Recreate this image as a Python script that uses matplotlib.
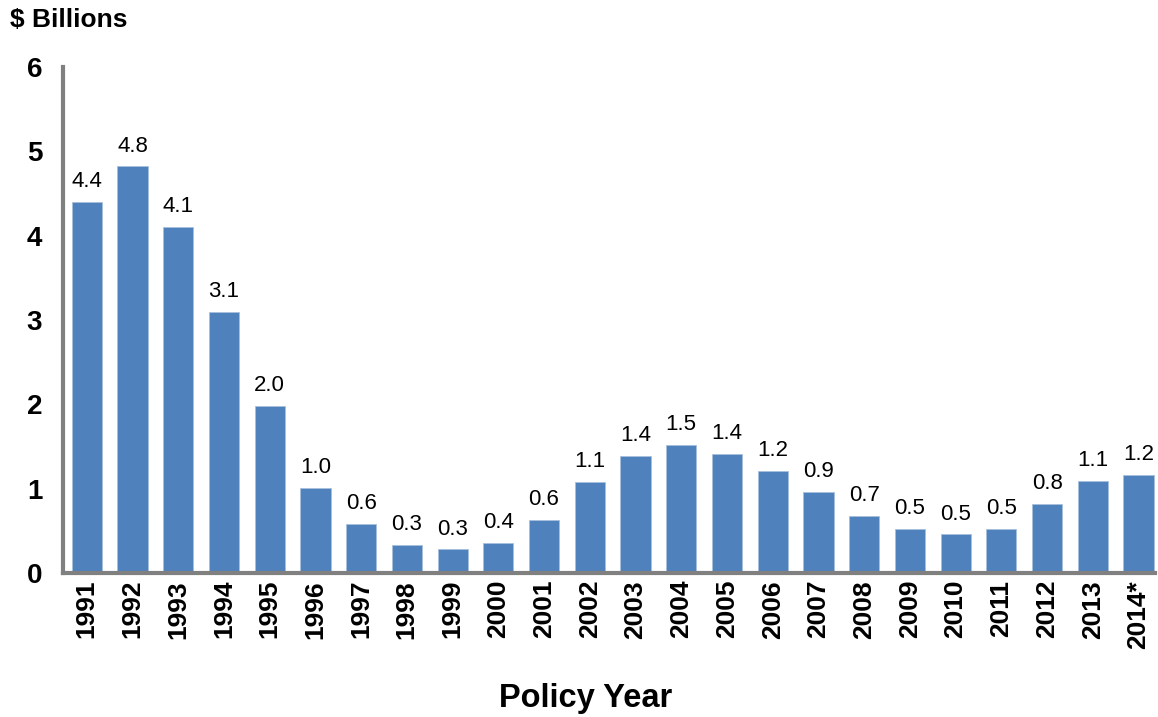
import matplotlib.pyplot as plt

years = ['1991', '1992', '1993', '1994', '1995', '1996', '1997', '1998',
         '1999', '2000', '2001', '2002', '2003', '2004', '2005', '2006',
         '2007', '2008', '2009', '2010', '2011', '2012', '2013', '2014*']
heights = [4.40, 4.82, 4.10, 3.10, 1.98, 1.01, 0.58, 0.33,
           0.28, 0.36, 0.63, 1.08, 1.39, 1.52, 1.41, 1.21,
           0.96, 0.68, 0.52, 0.46, 0.52, 0.82, 1.09, 1.16]
labels = ['4.4', '4.8', '4.1', '3.1', '2.0', '1.0', '0.6', '0.3',
          '0.3', '0.4', '0.6', '1.1', '1.4', '1.5', '1.4', '1.2',
          '0.9', '0.7', '0.5', '0.5', '0.5', '0.8', '1.1', '1.2']

plt.rcParams['font.family'] = ['Liberation Sans', 'DejaVu Sans']

fig = plt.figure(figsize=(11.58, 7.17), dpi=100)
ax = fig.add_axes([0.0544, 0.2008, 0.9426, 0.7058])

xs = list(range(len(years)))
bars = ax.bar(xs, heights, width=0.66, color='#4F81BD', edgecolor='#A7C0DE', linewidth=0.6)
for x, h, lab in zip(xs, heights, labels):
    ax.annotate(lab, (x, h), xytext=(0, 7), textcoords='offset points',
                ha='center', va='bottom', fontsize=16)

ax.set_ylim(0, 6)
ax.set_xlim(-0.52, 23.35)
ax.set_yticks(range(7))
ax.set_xticks(xs)
ax.set_xticklabels(years, rotation=90, fontsize=19, fontweight='bold')
for t in ax.get_yticklabels():
    t.set_fontsize(20)
    t.set_fontweight('bold')
ax.tick_params(axis='both', length=0)
ax.tick_params(axis='y', pad=15)
ax.tick_params(axis='x', pad=5)

for s in ['top', 'right']:
    ax.spines[s].set_visible(False)
for s in ['left', 'bottom']:
    ax.spines[s].set_color('#808080')
    ax.spines[s].set_linewidth(3)

fig.text(0.009, 0.972, '$ Billions', fontsize=19, fontweight='bold', va='center', ha='left')
fig.text(0.506, 0.026, 'Policy Year', fontsize=23.5, fontweight='bold', va='center', ha='center')

fig.savefig('out.png', dpi=100)
